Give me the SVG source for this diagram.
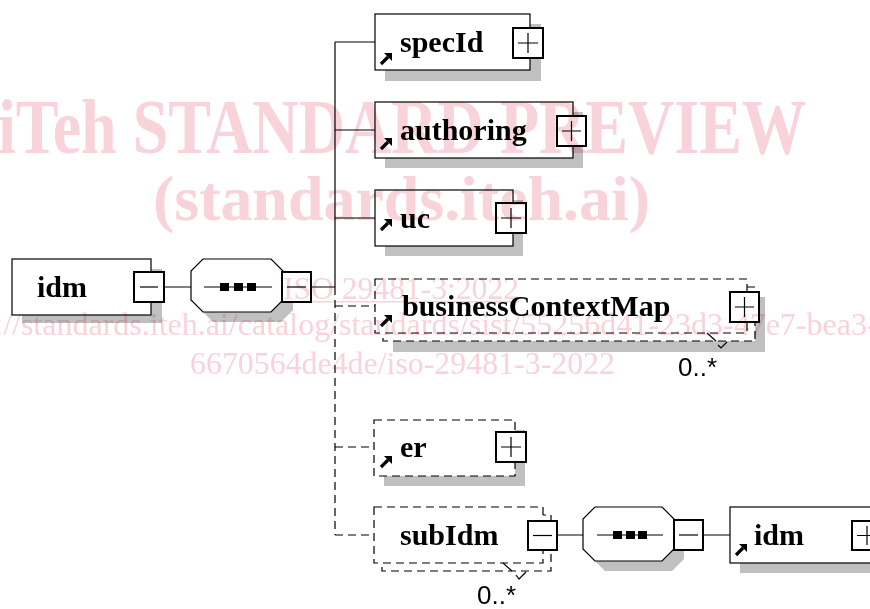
<svg xmlns="http://www.w3.org/2000/svg" xmlns:xlink="http://www.w3.org/1999/xlink" width="870" height="609" viewBox="0 0 870 609">
<style>
.box{fill:#fff;stroke:#000;stroke-width:1.2}
.dbox{fill:#fff;stroke:#000;stroke-width:1.2;stroke-dasharray:8,5}
.sh{fill:#c0c0c0;stroke:none}
.pm{fill:#fff;stroke:#000;stroke-width:2}
.pl{stroke:#000;stroke-width:1.2;fill:none}
.ln{stroke:#000;stroke-width:1.2;fill:none}
.dl{stroke:#000;stroke-width:1.2;fill:none;stroke-dasharray:8,5}
.lbl{font-family:"Liberation Serif",serif;font-weight:bold;font-size:30px;fill:#000}
.card{font-family:"Liberation Sans",sans-serif;font-size:26px;fill:#000}
.wm{font-family:"Liberation Serif",serif;fill:#f8d3d9;mix-blend-mode:multiply}
</style>
<defs>
<g id="arr"><path d="M1 12 L8 5" stroke="#000" stroke-width="3.2" fill="none"/><path d="M4 1 H12 V9 Z" fill="#000"/></g>
<g id="sq"><rect x="0" y="0" width="9" height="8" fill="#000"/></g>
</defs>
<rect width="870" height="609" fill="#fff"/>

<g id="connectors">
<path class="ln" d="M164 287 H191 M311 287 H335 M335 42 V287 M335 42 H375 M335 130 H375 M335 218 H375"/>
<path class="dl" d="M335 287 V535 M335 306 H375 M335 447 H374 M335 535 H374"/>
<path class="ln" d="M557 535 H583 M703 535 H730"/>
</g>

<g id="node-idm">
<rect class="sh" x="22" y="269" width="140" height="54"/>
<rect class="box" x="12" y="259" width="139" height="56"/>
<text class="lbl" x="37" y="297">idm</text>
<rect class="pm" x="134" y="272" width="30" height="30"/>
<path class="pl" d="M140 287 H158"/>
</g>

<g id="node-sequence1">
<polygon class="sh" points="213,269 281,269 293,281 293,310 281,322 213,322 201,310 201,281"/>
<polygon class="box" points="203,259 271,259 283,271 283,300 271,312 203,312 191,300 191,271"/>
<path class="ln" d="M204 287 H272"/>
<use xlink:href="#sq" x="220" y="283"/><use xlink:href="#sq" x="234" y="283"/><use xlink:href="#sq" x="247" y="283"/>
<rect class="pm" x="282" y="272" width="29" height="30"/>
<path class="pl" d="M287 287 H306"/>
</g>

<g id="node-specId">
<rect class="sh" x="385" y="24" width="156" height="57"/>
<rect class="box" x="375" y="14" width="155" height="56"/>
<use xlink:href="#arr" x="380" y="52"/>
<text class="lbl" x="400" y="52">specId</text>
<rect class="pm" x="513" y="28" width="30" height="30"/>
<path class="pl" d="M518 43 H538 M528 33 V53"/>
</g>

<g id="node-authoring">
<rect class="sh" x="385" y="112" width="198" height="56"/>
<rect class="box" x="375" y="102" width="198" height="56"/>
<use xlink:href="#arr" x="380" y="137"/>
<text class="lbl" x="400" y="140">authoring</text>
<rect class="pm" x="557" y="116" width="29" height="30"/>
<path class="pl" d="M562 131 H581 M571.5 121 V141"/>
</g>

<g id="node-uc">
<rect class="sh" x="385" y="200" width="138" height="56"/>
<rect class="box" x="375" y="190" width="138" height="56"/>
<use xlink:href="#arr" x="380" y="218"/>
<text class="lbl" x="400" y="228">uc</text>
<rect class="pm" x="496" y="203" width="30" height="30"/>
<path class="pl" d="M501 218 H521 M511 208 V228"/>
</g>

<g id="node-businessContextMap">
<rect class="sh" x="393" y="297" width="372" height="55"/>
<rect class="dbox" x="383" y="287" width="372" height="54"/>
<rect class="dbox" x="375" y="279" width="372" height="54"/>
<use xlink:href="#arr" x="380" y="314"/>
<text class="lbl" x="402" y="316">businessContextMap</text>
<rect class="pm" x="730" y="292" width="29" height="30"/>
<path class="pl" d="M735 307 H754 M744.5 297 V317"/>
<path class="ln" d="M707 333 L716 341 M718 345 L721 348 L727 342"/>
<text class="card" x="678" y="376">0..*</text>
</g>

<g id="node-er">
<rect class="sh" x="384" y="430" width="141" height="56"/>
<rect class="dbox" x="374" y="420" width="141" height="56"/>
<use xlink:href="#arr" x="380" y="455"/>
<text class="lbl" x="400" y="457">er</text>
<rect class="pm" x="496" y="432" width="30" height="30"/>
<path class="pl" d="M501 447 H521 M511 437 V457"/>
</g>

<g id="node-subIdm">
<rect class="dbox" x="382" y="515" width="169" height="56"/>
<rect class="dbox" x="374" y="507" width="169" height="56"/>
<text class="lbl" x="400" y="545">subIdm</text>
<rect class="pm" x="528" y="521" width="29" height="29"/>
<path class="pl" d="M533 535.5 H552"/>
<path class="ln" d="M503 563 L512 571 M516 575 L519 579 L526 572"/>
<text class="card" x="477" y="604">0..*</text>
</g>

<g id="node-sequence2">
<polygon class="sh" points="605,517 672,517 684,529 684,559 672,571 605,571 593,559 593,529"/>
<polygon class="box" points="595,507 662,507 674,519 674,549 662,561 595,561 583,549 583,519"/>
<path class="ln" d="M597 535 H663"/>
<use xlink:href="#sq" x="613" y="531"/><use xlink:href="#sq" x="626" y="531"/><use xlink:href="#sq" x="638" y="531"/>
<rect class="pm" x="674" y="520" width="29" height="30"/>
<path class="pl" d="M679 535 H698"/>
</g>

<g id="node-idm-ref">
<rect class="sh" x="740" y="517" width="155" height="56"/>
<rect class="box" x="730" y="507" width="155" height="56"/>
<use xlink:href="#arr" x="735" y="543"/>
<text class="lbl" x="754" y="545">idm</text>
<rect class="pm" x="852" y="521" width="30" height="29"/>
<path class="pl" d="M857 535.5 H877 M867 526 V545"/>
</g>

<g id="watermark">
<text class="wm" x="-2" y="153" font-size="78" font-weight="bold" textLength="808" lengthAdjust="spacingAndGlyphs">iTeh STANDARD PREVIEW</text>
<text class="wm" x="153" y="220" font-size="64" font-weight="bold" textLength="497" lengthAdjust="spacingAndGlyphs">(standards.iteh.ai)</text>
<text class="wm" x="283" y="299" font-size="32" textLength="236" lengthAdjust="spacingAndGlyphs">ISO 29481-3:2022</text>
<rect x="283" y="301" width="236" height="1.5" fill="#f8d3d9" style="mix-blend-mode:multiply"/>
<text class="wm" x="-68" y="335" font-size="32">https://standards.iteh.ai/catalog/standards/sist/55256d41-23d3-47e7-bea3-</text>
<text class="wm" x="190" y="374" font-size="32" textLength="425" lengthAdjust="spacingAndGlyphs">6670564de4de/iso-29481-3-2022</text>
</g>
</svg>
